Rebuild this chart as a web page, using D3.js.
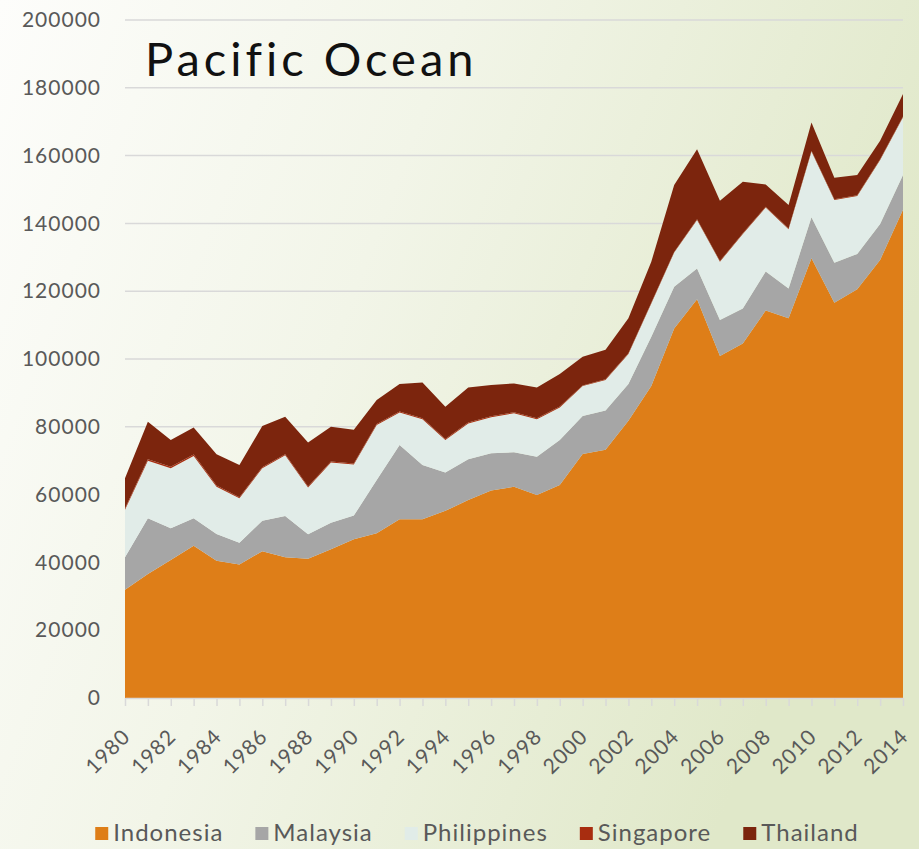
<!DOCTYPE html>
<html>
<head>
<meta charset="utf-8">
<script src="https://cdn.jsdelivr.net/npm/d3@7/dist/d3.min.js"></script>
<style>
  html, body { margin: 0; padding: 0; background: #fff; }
  svg { display: block; font-family: Lato, "Open Sans", sans-serif; }
</style>
</head>
<body>
<div id="chart"></div>
<script>
// years on the x axis
var years = d3.range(1980, 2015);

// series (tonnes)
var indonesia = [31900, 36600, 40700, 44900, 40500, 39400, 43300, 41500, 41100, 43900,
                 46800, 48600, 52700, 52700, 55200, 58400, 61200, 62300, 59900, 62800,
                 72000, 73200, 81800, 92000, 109000, 117600, 100900, 104600, 114300, 112000,
                 129700, 116600, 120600, 129200, 144000];
var malaysia = [9600, 16400, 9400, 8100, 7900, 6400, 9000, 12200, 7200, 7800,
                7000, 15700, 21900, 16000, 11300, 12000, 11000, 10200, 11300, 13300,
                11200, 11600, 10800, 14600, 12300, 9100, 10600, 10300, 11500, 8800,
                12100, 11800, 10400, 10600, 10300];
var philippines = [14000, 17000, 17700, 18400, 13900, 13100, 15500, 17900, 13800, 17800,
                   15100, 16200, 9600, 13500, 9600, 10600, 10600, 11500, 11000, 9600,
                   8800, 9000, 8900, 9800, 10100, 14300, 17200, 22000, 18900, 17500,
                   19400, 18500, 17100, 18900, 17000];
var singapore = [400, 400, 400, 400, 400, 300, 300, 300, 300, 300,
                 300, 300, 300, 300, 300, 300, 300, 300, 300, 300,
                 200, 200, 200, 200, 200, 200, 200, 200, 200, 200,
                 200, 200, 200, 200, 200];
var thailand = [8900, 11100, 7900, 8000, 9200, 9500, 12100, 11100, 13000, 10200,
                9900, 7100, 8100, 10600, 9500, 10300, 9200, 8500, 9100, 9600,
                8500, 8700, 10300, 12100, 19700, 20700, 17800, 15200, 6600, 6900,
                8400, 6400, 6000, 5500, 6700];

var seriesNames = ["Indonesia", "Malaysia", "Philippines", "Singapore", "Thailand"];
var seriesColors = ["#de7e18", "#a6a6a6", "#e1ece8", "#a82d10", "#7c250d"];
var yTicks = [0, 20000, 40000, 60000, 80000, 100000, 120000, 140000, 160000, 180000, 200000];
var chartTitle = "Pacific Ocean";

var width = 919, height = 849,
    margin = { top: 20, right: 16, bottom: 151, left: 125 },
    chartWidth = width - margin.left - margin.right,
    chartHeight = height - margin.top - margin.bottom;

// build table for the stack
var table = years.map(function (yr, i) {
    return {
        year: yr,
        Indonesia: indonesia[i],
        Malaysia: malaysia[i],
        Philippines: philippines[i],
        Singapore: singapore[i],
        Thailand: thailand[i]
    };
});

var svg = d3.select("#chart").append("svg")
    .attr("width", width)
    .attr("height", height);

// background gradient
var grad = svg.append("defs").append("linearGradient")
    .attr("id", "bg")
    .attr("x1", "0").attr("y1", "0")
    .attr("x2", "1").attr("y2", "0.35");
grad.append("stop").attr("offset", "0%").attr("stop-color", "#fdfdfb");
grad.append("stop").attr("offset", "45%").attr("stop-color", "#f2f5e8");
grad.append("stop").attr("offset", "100%").attr("stop-color", "#e0e8c9");

svg.append("rect")
    .attr("width", width)
    .attr("height", height)
    .attr("fill", "url(#bg)");

var g = svg.append("g")
    .attr("transform", "translate(" + margin.left + "," + margin.top + ")");

var x = d3.scaleLinear()
    .domain([1980, 2014])
    .range([0, chartWidth]);

var y = d3.scaleLinear()
    .domain([0, 200000])
    .range([chartHeight, 0]);

// gridlines
g.append("g")
    .attr("class", "grid")
    .selectAll("line")
    .data(yTicks.slice(1))
    .enter().append("line")
    .attr("x1", 0)
    .attr("x2", chartWidth)
    .attr("y1", function (d) { return y(d); })
    .attr("y2", function (d) { return y(d); })
    .attr("stroke", "#d9d9d9")
    .attr("stroke-width", 1.5);

// stacked areas
var stack = d3.stack().keys(seriesNames);
var layers = stack(table);

var area = d3.area()
    .x(function (d) { return x(d.data.year); })
    .y0(function (d) { return y(d[0]); })
    .y1(function (d) { return y(d[1]); });

g.selectAll(".layer")
    .data(layers)
    .enter().append("path")
    .attr("class", "layer")
    .attr("d", area)
    .attr("fill", function (d, i) { return seriesColors[i]; });

// Left Axis:
var yAxis = g.append("g")
    .call(d3.axisLeft(y)
        .tickValues(yTicks)
        .tickSize(0)
        .tickPadding(24)
        .tickFormat(d3.format("d")));
yAxis.select(".domain").remove();
yAxis.selectAll("text")
    .attr("fill", "#595959")
    .attr("font-size", "21px")
    .attr("letter-spacing", "1px")
    .attr("font-family", "Lato, sans-serif");

// Bottom Axis:
var xAxis = g.append("g")
    .attr("transform", "translate(0," + chartHeight + ")")
    .call(d3.axisBottom(x)
        .tickValues(years)
        .tickSize(8)
        .tickSizeOuter(0)
        .tickFormat(function (d) { return d % 2 === 0 ? d : ""; }));
xAxis.select(".domain").attr("stroke", "#d9d9d9").attr("stroke-width", 1.5);
xAxis.selectAll(".tick line").attr("stroke", "#d9d9d9").attr("stroke-width", 1.5);
xAxis.selectAll("text")
    .attr("fill", "#595959")
    .attr("font-size", "21px")
    .attr("letter-spacing", "1px")
    .attr("font-family", "Lato, sans-serif")
    .attr("text-anchor", "end")
    .attr("x", 0).attr("y", 0).attr("dy", 0)
    .attr("transform", "translate(6,40) rotate(-45)");

// Title
svg.append("text")
    .attr("x", 145)
    .attr("y", 76)
    .attr("font-size", "47px")
    .attr("fill", "#111")
    .attr("letter-spacing", "4px")
    .text(chartTitle);

// Legend
var legend = svg.append("g").attr("class", "legend");
var lx = 0;
seriesNames.forEach(function (name, i) {
    var item = legend.append("g").attr("transform", "translate(" + lx + ",0)");
    item.append("rect")
        .attr("x", 0).attr("y", -14)
        .attr("width", 13).attr("height", 13)
        .attr("fill", seriesColors[i]);
    var t = item.append("text")
        .attr("x", 18).attr("y", 0)
        .attr("font-size", "24px")
        .attr("letter-spacing", "1px")
        .attr("fill", "#595959")
        .text(name);
    lx += 18 + t.node().getComputedTextLength() + 32;
});
var legendWidth = lx - 32;
legend.attr("transform", "translate(" + (477 - legendWidth / 2) + ",841)");
</script>
</body>
</html>
